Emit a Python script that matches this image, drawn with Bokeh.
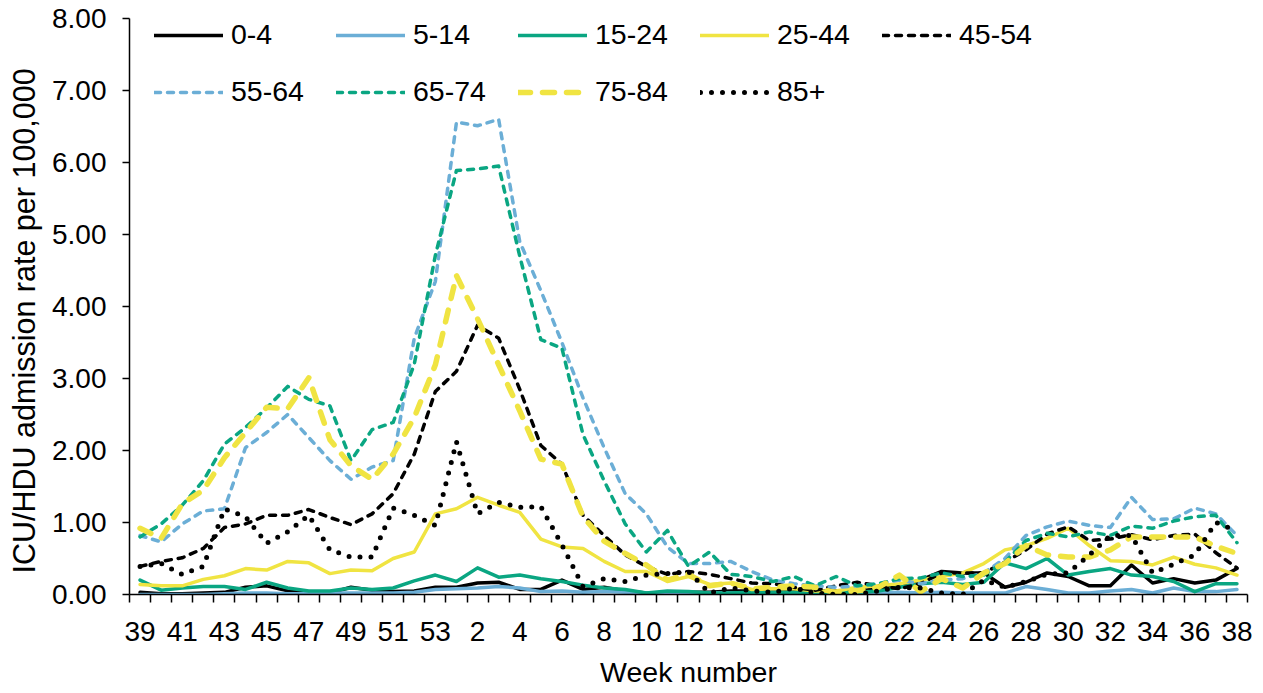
import numpy as np
from bokeh.plotting import figure
from bokeh.models import Range1d, FixedTicker, NumeralTickFormatter, Legend, LegendItem, Title
from bokeh.embed import file_html
from bokeh.resources import INLINE

# ---------------- data ----------------
weeks = list(range(39, 54)) + list(range(1, 39))

age_0_4 = [0.03, 0.01, 0.01, 0.02, 0.03, 0.10, 0.12, 0.05, 0.02, 0.02, 0.10, 0.06, 0.04, 0.05, 0.10,
           0.10, 0.16, 0.17, 0.07, 0.07, 0.20, 0.07, 0.10, 0.05, 0.02, 0.02, 0.03, 0.03, 0.05, 0.05,
           0.05, 0.05, 0.05, 0.05, 0.05, 0.08, 0.12, 0.20, 0.32, 0.30, 0.30, 0.10, 0.17, 0.30, 0.25,
           0.12, 0.12, 0.41, 0.16, 0.22, 0.16, 0.20, 0.36]
age_5_14 = [0.00, 0.00, 0.00, 0.00, 0.01, 0.02, 0.02, 0.01, 0.01, 0.02, 0.02, 0.02, 0.02, 0.03, 0.07,
            0.08, 0.09, 0.11, 0.09, 0.04, 0.05, 0.03, 0.04, 0.03, 0.02, 0.02, 0.01, 0.02, 0.02, 0.02,
            0.03, 0.02, 0.02, 0.02, 0.03, 0.02, 0.03, 0.02, 0.03, 0.02, 0.02, 0.02, 0.11, 0.07, 0.02,
            0.02, 0.05, 0.07, 0.02, 0.09, 0.04, 0.04, 0.07]
age_15_24 = [0.20, 0.06, 0.09, 0.11, 0.11, 0.07, 0.17, 0.09, 0.05, 0.05, 0.09, 0.07, 0.09, 0.19, 0.27,
             0.18, 0.37, 0.24, 0.27, 0.22, 0.18, 0.13, 0.09, 0.07, 0.02, 0.05, 0.04, 0.02, 0.02, 0.03,
             0.03, 0.03, 0.02, 0.03, 0.03, 0.05, 0.10, 0.15, 0.17, 0.14, 0.17, 0.44, 0.36, 0.50, 0.27,
             0.32, 0.36, 0.27, 0.25, 0.18, 0.04, 0.15, 0.15]
age_25_44 = [0.14, 0.12, 0.12, 0.21, 0.26, 0.36, 0.34, 0.46, 0.44, 0.29, 0.34, 0.33, 0.50, 0.59, 1.12,
             1.19, 1.35, 1.24, 1.14, 0.77, 0.66, 0.64, 0.46, 0.32, 0.32, 0.18, 0.25, 0.14, 0.16, 0.07,
             0.08, 0.08, 0.05, 0.05, 0.10, 0.12, 0.15, 0.20, 0.25, 0.30, 0.43, 0.62, 0.68, 0.78, 0.92,
             0.68, 0.47, 0.46, 0.41, 0.52, 0.42, 0.37, 0.27]
age_45_54 = [0.39, 0.46, 0.51, 0.64, 0.93, 0.98, 1.10, 1.10, 1.18, 1.07, 0.97, 1.12, 1.40, 1.95, 2.82,
             3.10, 3.74, 3.56, 2.85, 2.07, 1.81, 1.10, 0.82, 0.55, 0.39, 0.28, 0.32, 0.28, 0.22, 0.16,
             0.15, 0.10, 0.06, 0.12, 0.17, 0.12, 0.08, 0.15, 0.30, 0.30, 0.30, 0.45, 0.62, 0.84, 0.94,
             0.75, 0.77, 0.83, 0.76, 0.82, 0.84, 0.58, 0.37]
age_55_64 = [0.82, 0.73, 0.98, 1.16, 1.19, 2.04, 2.25, 2.50, 2.18, 1.86, 1.60, 1.77, 1.86, 3.56, 4.35,
             6.56, 6.51, 6.60, 4.90, 4.22, 3.50, 2.73, 2.04, 1.40, 1.12, 0.66, 0.43, 0.43, 0.46, 0.32,
             0.20, 0.15, 0.12, 0.10, 0.12, 0.15, 0.20, 0.15, 0.20, 0.22, 0.30, 0.50, 0.82, 0.94, 1.02,
             0.96, 0.93, 1.35, 1.04, 1.05, 1.20, 1.12, 0.82]
age_65_74 = [0.80, 0.98, 1.24, 1.58, 2.09, 2.32, 2.59, 2.89, 2.71, 2.62, 1.86, 2.29, 2.39, 3.20, 4.71,
             5.89, 5.91, 5.95, 4.70, 3.54, 3.42, 2.22, 1.58, 0.98, 0.59, 0.89, 0.39, 0.59, 0.28, 0.25,
             0.18, 0.25, 0.12, 0.25, 0.12, 0.15, 0.22, 0.23, 0.30, 0.25, 0.27, 0.45, 0.75, 0.85, 0.80,
             0.87, 0.82, 0.95, 0.92, 1.02, 1.08, 1.10, 0.72]
age_75_84 = [0.92, 0.78, 1.26, 1.45, 1.90, 2.25, 2.60, 2.58, 3.01, 2.15, 1.79, 1.60, 1.95, 2.46, 3.19,
             4.43, 3.83, 3.19, 2.55, 1.88, 1.81, 1.08, 0.74, 0.57, 0.41, 0.20, 0.28, 0.12, 0.16, 0.08,
             0.10, 0.12, 0.10, 0.02, 0.05, 0.10, 0.27, 0.04, 0.22, 0.09, 0.30, 0.43, 0.68, 0.55, 0.52,
             0.52, 0.62, 0.80, 0.80, 0.80, 0.80, 0.67, 0.57]
age_85_plus = [0.39, 0.43, 0.28, 0.39, 1.19, 1.08, 0.71, 0.87, 1.10, 0.62, 0.52, 0.52, 1.20, 1.10, 0.96,
               2.12, 1.12, 1.28, 1.21, 1.22, 0.69, 0.11, 0.22, 0.18, 0.27, 0.29, 0.32, 0.02, 0.09, 0.05,
               0.03, 0.09, 0.02, 0.00, 0.00, 0.05, 0.10, 0.09, 0.02, 0.00, 0.20, 0.10, 0.18, 0.28, 0.30,
               0.55, 0.82, 0.82, 0.30, 0.42, 0.55, 1.00, 0.88]

series_labels = ["0-4", "5-14", "15-24", "25-44", "45-54", "55-64", "65-74", "75-84", "85+"]
y_ticks = [0, 1, 2, 3, 4, 5, 6, 7, 8]

# ---------------- styles ----------------
BLUE = "#6BAED6"
GREEN = "#0AA682"
YELLOW = "#F0E442"
FONT = "Liberation Sans"

styles = [
    dict(color="black", width=3.5, dash="solid", cap="round"),
    dict(color=BLUE, width=3.5, dash="solid", cap="round"),
    dict(color=GREEN, width=3.5, dash="solid", cap="round"),
    dict(color=YELLOW, width=3.5, dash="solid", cap="round"),
    dict(color="black", width=3.5, dash="6 7", cap="round"),
    dict(color=BLUE, width=3.5, dash="6 7", cap="round"),
    dict(color=GREEN, width=3.5, dash="6 7", cap="round"),
    dict(color=YELLOW, width=5.5, dash="12 12", cap="round"),
    dict(color="black", width=5.0, dash="0 11", cap="round"),
]
data = [age_0_4, age_5_14, age_15_24, age_25_44, age_45_54,
        age_55_64, age_65_74, age_75_84, age_85_plus]

n = len(weeks)
x = [i + 0.5 for i in range(n)]

p = figure(width=1258, height=690, output_backend="svg", toolbar_location=None,
           x_range=Range1d(0, n), y_range=Range1d(0, 8),
           min_border_left=129, min_border_right=11, min_border_top=18, min_border_bottom=92)
p.outline_line_color = None
p.xgrid.visible = False
p.ygrid.visible = False
p.background_fill_color = "white"
p.border_fill_color = "white"

renderers = []
for vals, st in zip(data, styles):
    r = p.line(x, vals, line_color=st["color"], line_width=st["width"],
               line_dash=st["dash"], line_cap=st["cap"], line_join="round")
    renderers.append(r)

# x axis
xa = p.xaxis[0]
xa.ticker = FixedTicker(ticks=[i + 0.5 for i in range(0, n, 2)],
                        minor_ticks=list(range(0, n + 1)))
xa.major_label_overrides = {i + 0.5: str(weeks[i]) for i in range(0, n, 2)}
xa.major_tick_in = 0
xa.major_tick_out = 0
xa.minor_tick_in = 0
xa.minor_tick_out = 8
xa.minor_tick_line_color = "black"
xa.minor_tick_line_width = 1.5
xa.axis_line_color = "black"
xa.axis_line_width = 1.5
xa.major_label_text_font = FONT
xa.major_label_text_font_size = "28px"
xa.major_label_text_color = "black"
xa.major_label_standoff = 19
xa.axis_label = "Week number"
xa.axis_label_text_font = FONT
xa.axis_label_text_font_size = "28.5px"
xa.axis_label_text_font_style = "normal"
xa.axis_label_text_color = "black"
xa.axis_label_standoff = 12

# y axis
ya = p.yaxis[0]
ya.ticker = FixedTicker(ticks=y_ticks)
ya.formatter = NumeralTickFormatter(format="0.00")
ya.major_tick_in = 0
ya.major_tick_out = 7
ya.minor_tick_in = 0
ya.minor_tick_out = 0
ya.major_tick_line_color = "black"
ya.major_tick_line_width = 1.5
ya.axis_line_color = "black"
ya.axis_line_width = 1.5
ya.major_label_text_font = FONT
ya.major_label_text_font_size = "28px"
ya.major_label_text_color = "black"
ya.major_label_standoff = 16

# y axis title (left side panel, positioned like the reference)
ytitle = Title(text="ICU/HDU admission rate per 100,000", align="left", offset=21,
               vertical_align="top", standoff=13, text_font=FONT, text_font_size="30.5px",
               text_font_style="normal", text_color="black")
p.add_layout(ytitle, "left")

# legends (two rows)
items = [LegendItem(label=lab, renderers=[r]) for lab, r in zip(series_labels, renderers)]

def make_legend(its, loc):
    lg = Legend(items=its, location=loc, orientation="horizontal",
                glyph_width=69, glyph_height=20, label_standoff=8, label_width=95,
                spacing=10, padding=0, margin=0,
                label_text_font=FONT, label_text_font_size="28.5px", label_text_color="black",
                background_fill_alpha=0, border_line_alpha=0)
    return lg

p.add_layout(make_legend(items[:5], (25, 543)))
p.add_layout(make_legend(items[5:], (25, 486)))

open("out.html", "w").write(file_html(p, INLINE))
